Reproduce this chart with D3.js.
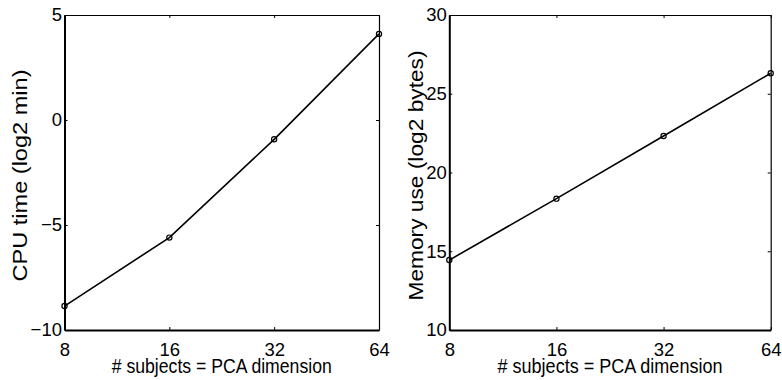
<!DOCTYPE html>
<html>
<head>
<meta charset="utf-8">
<script src="https://cdn.jsdelivr.net/npm/d3@7"></script>
<style>
  html, body { margin: 0; padding: 0; background: #fff; }
  svg text { font-family: "Liberation Sans", Arial, Helvetica, sans-serif; fill: #000; }
</style>
</head>
<body>
<svg id="chart" width="782" height="380"></svg>
<script>
// Number of subjects (also the PCA dimension), plotted on a log2 axis
const subjects = [8, 16, 32, 64];
// CPU time in log2 minutes
const cpuTime = [-8.86, -5.6, -0.92, 4.1];
// Memory use in log2 bytes
const memoryUse = [14.44, 18.34, 22.32, 26.3];

const xTicks = [8, 16, 32, 64];
const cpuTicks = [-10, -5, 0, 5];
const memTicks = [10, 15, 20, 25, 30];

const xLabel = "# subjects = PCA dimension";

const svg = d3.select("#chart");

const panels = [
  { values: cpuTime, yDomain: [-10, 5], yTicks: cpuTicks, yLabel: "CPU time (log2 min)",
    left: 64.5, right: 379, yLabelX: 27, yLabelLen: 212, xLabelLen: 220 },
  { values: memoryUse, yDomain: [10, 30], yTicks: memTicks, yLabel: "Memory use (log2 bytes)",
    left: 449.3, right: 770.7, yLabelX: 423, yLabelLen: 250, xLabelLen: 225 }
];

const plotTop = 15, plotBottom = 330;

panels.forEach(p => {
  const x = d3.scaleLog().base(2).domain([8, 64]).range([p.left, p.right]);
  const y = d3.scaleLinear().domain(p.yDomain).range([plotBottom, plotTop]);
  const g = svg.append("g");

  // Bottom axis with labels, inward ticks
  const bx = g.append("g").attr("transform", `translate(0,${plotBottom})`)
    .call(d3.axisBottom(x).tickValues(xTicks).tickFormat(d3.format("d"))
      .tickSizeInner(-3).tickSizeOuter(0).tickPadding(12.5));
  // Left axis with labels
  const ly = g.append("g").attr("transform", `translate(${p.left},0)`)
    .call(d3.axisLeft(y).tickValues(p.yTicks).tickFormat(d3.format("d"))
      .tickSizeInner(-3).tickSizeOuter(0).tickPadding(2.5));
  // Top and right axes: ticks only
  const tx = g.append("g").attr("transform", `translate(0,${plotTop})`)
    .call(d3.axisTop(x).tickValues(xTicks).tickFormat("")
      .tickSizeInner(-3).tickSizeOuter(0));
  const ry = g.append("g").attr("transform", `translate(${p.right},0)`)
    .call(d3.axisRight(y).tickValues(p.yTicks).tickFormat("")
      .tickSizeInner(-3).tickSizeOuter(0));

  [bx, ly].forEach(a => a.select(".domain").attr("stroke", "#000").attr("stroke-width", 2));
  [tx, ry].forEach(a => a.select(".domain").attr("stroke", "#000").attr("stroke-width", 1.2));
  g.selectAll(".tick line").attr("stroke", "#000").attr("stroke-width", 1);
  g.selectAll(".tick text").attr("font-size", 18.5)
    .attr("font-family", "'Liberation Sans', Arial, sans-serif").attr("fill", "#000");

  // Series line and markers
  const pts = subjects.map((s, i) => [x(s), y(p.values[i])]);
  g.append("path")
    .attr("d", d3.line()(pts))
    .attr("fill", "none").attr("stroke", "#000").attr("stroke-width", 1.6);
  g.selectAll("circle.pt").data(pts).join("circle")
    .attr("class", "pt")
    .attr("cx", d => d[0]).attr("cy", d => d[1]).attr("r", 2.6)
    .attr("fill", "none").attr("stroke", "#000").attr("stroke-width", 1.2);

  // Axis titles
  g.append("text")
    .attr("x", (p.left + p.right) / 2).attr("y", 372.5)
    .attr("text-anchor", "middle").attr("font-size", 20)
    .attr("textLength", p.xLabelLen).attr("lengthAdjust", "spacingAndGlyphs")
    .text(xLabel);
  g.append("text")
    .attr("transform", `translate(${p.yLabelX},${(plotTop + plotBottom) / 2 + 3}) rotate(-90)`)
    .attr("text-anchor", "middle").attr("font-size", 20)
    .attr("textLength", p.yLabelLen).attr("lengthAdjust", "spacingAndGlyphs")
    .text(p.yLabel);
});
</script>
</body>
</html>
